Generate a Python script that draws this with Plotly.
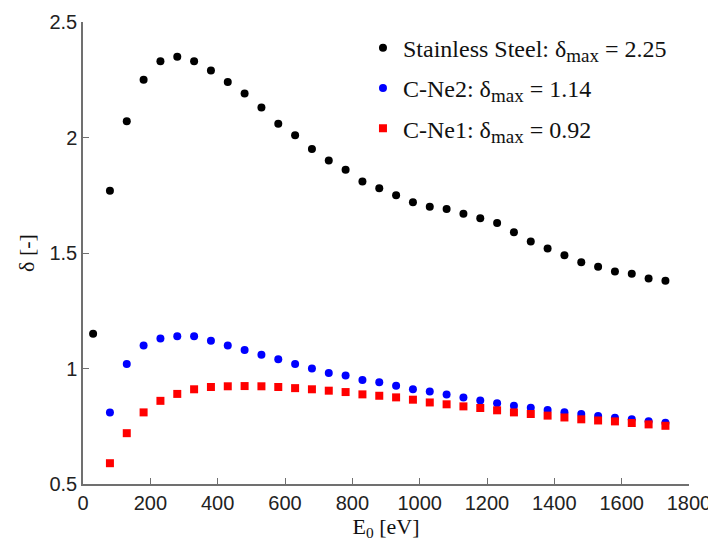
import plotly.graph_objects as go

# Beam energy E0 [eV]
e_steel = [30, 80, 130, 180, 230, 280, 330, 380, 430, 480, 530, 580, 630, 680, 730,
           780, 830, 880, 930, 980, 1030, 1080, 1130, 1180, 1230, 1280, 1330, 1380,
           1430, 1480, 1530, 1580, 1630, 1680, 1730]
e_cne = [80, 130, 180, 230, 280, 330, 380, 430, 480, 530, 580, 630, 680, 730,
         780, 830, 880, 930, 980, 1030, 1080, 1130, 1180, 1230, 1280, 1330, 1380,
         1430, 1480, 1530, 1580, 1630, 1680, 1730]

# Secondary electron yield delta [-]
steel = [1.15, 1.77, 2.07, 2.25, 2.33, 2.35, 2.33, 2.29, 2.24, 2.19, 2.13, 2.06, 2.01,
         1.95, 1.90, 1.86, 1.81, 1.78, 1.75, 1.72, 1.70, 1.69, 1.67, 1.65, 1.63, 1.59,
         1.55, 1.52, 1.49, 1.46, 1.44, 1.42, 1.41, 1.39, 1.38]
cne2 = [0.81, 1.02, 1.10, 1.13, 1.14, 1.14, 1.12, 1.10, 1.08, 1.06, 1.04, 1.02, 1.00,
        0.98, 0.97, 0.95, 0.94, 0.925, 0.91, 0.90, 0.887, 0.874, 0.861, 0.85, 0.839,
        0.83, 0.82, 0.811, 0.803, 0.794, 0.787, 0.78, 0.772, 0.765]
cne1 = [0.59, 0.72, 0.81, 0.86, 0.89, 0.91, 0.92, 0.923, 0.924, 0.923, 0.92, 0.915,
        0.91, 0.904, 0.898, 0.888, 0.882, 0.875, 0.865, 0.853, 0.845, 0.836, 0.829,
        0.819, 0.81, 0.803, 0.796, 0.788, 0.78, 0.775, 0.771, 0.764, 0.758, 0.752]

SUB = '<sub><span style="font-size:19px">max</span></sub>'
names = ["Stainless Steel: δ" + SUB + " = 2.25",
         "C-Ne2: δ" + SUB + " = 1.14",
         "C-Ne1: δ" + SUB + " = 0.92"]

x_ticks = [0, 200, 400, 600, 800, 1000, 1200, 1400, 1600, 1800]
y_ticks = [0.5, 1, 1.5, 2, 2.5]
y_tick_text = ["0.5", "1", "1.5", "2", "2.5"]

fig = go.Figure()
fig.add_trace(go.Scatter(x=e_steel, y=steel, mode="markers", name=names[0],
                         legendgroup="a",
                         marker=dict(symbol="circle", size=8, color="black")))
fig.add_trace(go.Scatter(x=e_cne, y=cne2, mode="markers", name=names[1],
                         legendgroup="b",
                         marker=dict(symbol="circle", size=8, color="#0000ff")))
fig.add_trace(go.Scatter(x=e_cne, y=cne1, mode="markers", name=names[2],
                         legendgroup="c",
                         marker=dict(symbol="square", size=8, color="#ff0000")))

axis_common = dict(showline=True, linecolor="#707070", linewidth=1.5,
                   ticks="inside", ticklen=6, tickcolor="#707070", tickwidth=1,
                   showgrid=False, zeroline=False, mirror=False, automargin=False,
                   tickfont=dict(family="Liberation Sans, Arial", size=20, color="#222"))

# page body has an 8px default margin, so the figure is sized 8px smaller
fig.update_layout(
    width=708, height=538,
    margin=dict(l=75, r=27, t=14, b=62),
    plot_bgcolor="white", paper_bgcolor="white",
    xaxis=dict(range=[0, 1800], tickvals=x_ticks,
               title=dict(text="E<sub>0</sub> [eV]", standoff=5,
                          font=dict(family="Liberation Serif, Times New Roman", size=22, color="#111")),
               **axis_common),
    yaxis=dict(range=[0.5, 2.5], tickvals=y_ticks, ticktext=y_tick_text,
               title=dict(text="δ [-]", standoff=9,
                          font=dict(family="Liberation Serif, Times New Roman", size=22, color="#111")),
               **axis_common),
    legend=dict(x=0.462, y=0.992, xanchor="left", yanchor="top",
                bgcolor="rgba(255,255,255,0.9)", borderwidth=0,
                traceorder="grouped", tracegroupgap=6,
                font=dict(family="Liberation Serif, Times New Roman", size=24, color="#111")),
    showlegend=True,
)

fig.write_html("out.html")
